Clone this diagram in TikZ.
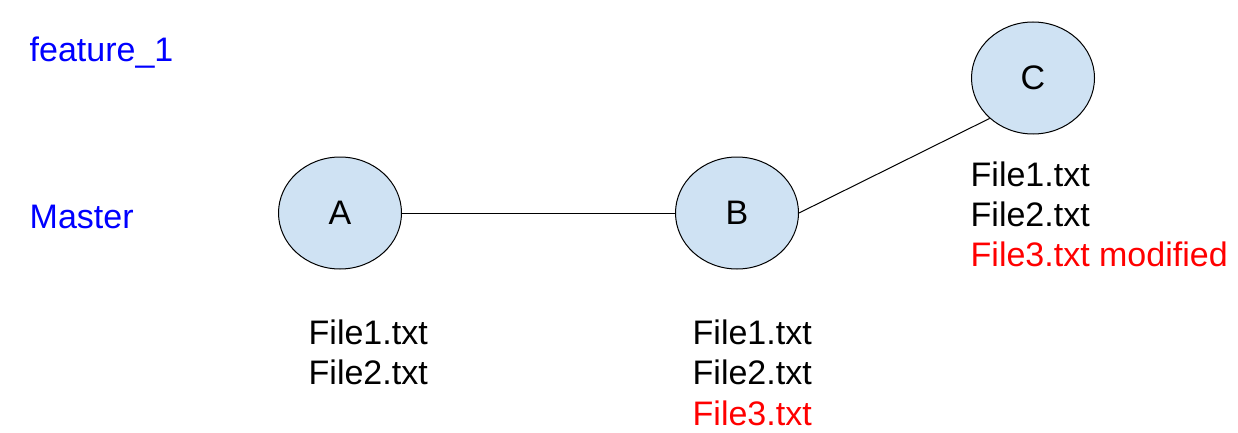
\documentclass[tikz,border=0pt]{standalone}
\usepackage{fontspec}
\setmainfont{Liberation Sans}
\usetikzlibrary{shapes.geometric}
\definecolor{nodefill}{HTML}{CFE2F3}
\definecolor{lblblue}{HTML}{0000FF}
\definecolor{lblred}{HTML}{FF0000}
\tikzset{
  commit/.style={ellipse, draw=black, line width=1pt, fill=nodefill, minimum width=123pt, minimum height=112pt, inner sep=0pt, font=\fontsize{34}{40}\selectfont},
  txt/.style={anchor=base west, inner sep=0pt, font=\fontsize{34}{40}\selectfont},
  branch/.style={txt, text=lblblue},
  mod/.style={txt, text=lblred},
  link/.style={line width=1pt, draw=black}
}
\begin{document}
\begin{tikzpicture}[x=1pt,y=-1pt]
\useasboundingbox (0,0) rectangle (1238,433);
\node[branch] (feat) at (29.5,62) {feature\_1};
\node[branch] (master) at (29.5,228) {Master};
\node[commit] (A) at (340,213) {A};
\node[commit] (B) at (737,213) {B};
\node[commit] (C) at (1033,78) {C};
\draw[link] (A) -- (B);
\draw[link] (B.east) -- (C.223);
\node[txt] (a1) at (308.5,344) {File1.txt};
\node[txt] (a2) at (308.5,384.5) {File2.txt};
\node[txt] (b1) at (692.5,344) {File1.txt};
\node[txt] (b2) at (692.5,384.5) {File2.txt};
\node[mod] (b3) at (692.5,425) {File3.txt};
\node[txt] (c1) at (970.5,186) {File1.txt};
\node[txt] (c2) at (970.5,226) {File2.txt};
\node[mod] (c3) at (970.5,266) {File3.txt modified};
\end{tikzpicture}
\end{document}
